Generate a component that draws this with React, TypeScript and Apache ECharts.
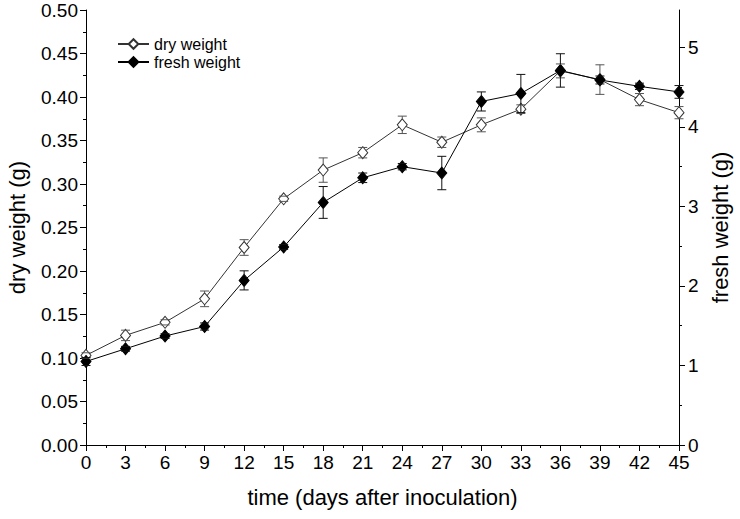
import React, { useEffect, useRef } from "react";
import * as echarts from "echarts";

const days = [0, 3, 6, 9, 12, 15, 18, 21, 24, 27, 30, 33, 36, 39, 42, 45];
const dryWeight = [0.103, 0.126, 0.141, 0.168, 0.227, 0.283, 0.316, 0.336, 0.368, 0.348, 0.368, 0.386, 0.43, 0.42, 0.397, 0.382];
const dryErr = [0.003, 0.006, 0.003, 0.009, 0.009, 0.003, 0.014, 0.006, 0.01, 0.006, 0.008, 0.005, 0.008, 0.017, 0.007, 0.007];
const freshWeight = [1.05, 1.21, 1.37, 1.49, 2.07, 2.49, 3.05, 3.36, 3.5, 3.42, 4.32, 4.42, 4.71, 4.59, 4.51, 4.44];
const freshErr = [0.05, 0.03, 0.03, 0.045, 0.12, 0.03, 0.2, 0.06, 0.04, 0.21, 0.12, 0.24, 0.21, 0.05, 0.04, 0.08];
const rightTicks = [0, 1, 2, 3, 4, 5];
const rightMinorTicks = [0.5, 1.5, 2.5, 3.5, 4.5];

const FONT = "'Liberation Sans', Arial, sans-serif";

function errorSeries(vals: number[], errs: number[], yAxisIndex: number, color: string) {
  return {
    type: "custom",
    yAxisIndex,
    silent: true,
    z: 5,
    data: days.map((d, i) => [d, vals[i], vals[i] - errs[i], vals[i] + errs[i]]),
    encode: { x: 0, y: [1, 2, 3] },
    renderItem: (params: any, api: any) => {
      const x = api.value(0);
      const c = api.coord([x, api.value(1)]);
      const lo = api.coord([x, api.value(2)]);
      const hi = api.coord([x, api.value(3)]);
      const half = 6;
      const w = 4.5;
      const st = { stroke: color, lineWidth: 1 };
      const children: any[] = [
        { type: "line", shape: { x1: hi[0] - w, y1: hi[1], x2: hi[0] + w, y2: hi[1] }, style: st },
        { type: "line", shape: { x1: lo[0] - w, y1: lo[1], x2: lo[0] + w, y2: lo[1] }, style: st },
      ];
      if (c[1] - hi[1] > half) {
        children.push({ type: "line", shape: { x1: c[0], y1: c[1] - half, x2: hi[0], y2: hi[1] }, style: st });
      }
      if (lo[1] - c[1] > half) {
        children.push({ type: "line", shape: { x1: c[0], y1: c[1] + half, x2: lo[0], y2: lo[1] }, style: st });
      }
      return { type: "group", children };
    },
  };
}

export default function App() {
  const ref = useRef<HTMLDivElement>(null);
  useEffect(() => {
    document.body.style.margin = "0";
    const chart = echarts.init(ref.current!, null, { renderer: "svg" });
    const axisText = { color: "#000", fontFamily: FONT, fontSize: 19 };
    const nameText = { color: "#000", fontFamily: FONT, fontSize: 22 };
    chart.setOption({
      animation: false,
      backgroundColor: "#fff",
      grid: { left: 86, right: 61, top: 10, bottom: 74, containLabel: false, outerBoundsMode: "none" },
      legend: {
        data: ["dry weight", "fresh weight"],
        orient: "vertical",
        left: 112,
        top: 31,
        itemWidth: 31,
        itemHeight: 12,
        itemGap: 2,
        textStyle: { color: "#000", fontFamily: FONT, fontSize: 16 },
      },
      xAxis: {
        type: "value",
        min: 0,
        max: 45,
        interval: 3,
        name: "time (days after inoculation)",
        nameLocation: "middle",
        nameGap: 41,
        nameTextStyle: nameText,
        axisLine: { show: true, onZero: false, lineStyle: { color: "#000", width: 1 } },
        axisTick: { show: true, inside: false, length: 6, lineStyle: { color: "#000" } },
        minorTick: { show: true, splitNumber: 2, length: 3, lineStyle: { color: "#000" } },
        axisLabel: { ...axisText, margin: 8 },
        splitLine: { show: false },
      },
      yAxis: [
        {
          type: "value",
          position: "left",
          min: 0,
          max: 0.5,
          interval: 0.05,
          name: "dry weight (g)",
          nameLocation: "middle",
          nameGap: 58,
          nameRotate: 90,
          nameTextStyle: nameText,
          axisLine: { show: true, lineStyle: { color: "#000", width: 1 } },
          axisTick: { show: true, length: 6, lineStyle: { color: "#000" } },
          minorTick: { show: true, splitNumber: 2, length: 3, lineStyle: { color: "#000" } },
          axisLabel: { ...axisText, margin: 8, formatter: (v: number) => v.toFixed(2) },
          splitLine: { show: false },
        },
        {
          type: "value",
          position: "right",
          min: 0,
          max: 5.47,
          interval: 1,
          name: "fresh weight (g)",
          nameLocation: "middle",
          nameGap: 26,
          nameRotate: 90,
          nameTextStyle: nameText,
          axisLine: { show: true, lineStyle: { color: "#000", width: 1 } },
          axisTick: { show: true, length: 6, customValues: rightTicks, lineStyle: { color: "#000" } },
          axisLabel: { ...axisText, margin: 9, customValues: rightTicks },
          splitLine: { show: false },
        },
        {
          type: "value",
          position: "right",
          offset: 0,
          min: 0,
          max: 5.47,
          interval: 1,
          axisLine: { show: false },
          axisTick: { show: true, length: 3, customValues: rightMinorTicks, lineStyle: { color: "#000" } },
          axisLabel: { show: false },
          splitLine: { show: false },
        },
      ],
      series: [
        {
          name: "dry weight",
          type: "line",
          yAxisIndex: 0,
          data: days.map((d, i) => [d, dryWeight[i]]),
          symbol: "diamond",
          symbolSize: [10, 12],
          showAllSymbol: true,
          lineStyle: { color: "#333", width: 1 },
          itemStyle: { color: "#fff", borderColor: "#333", borderWidth: 1 },
          z: 3,
        },
        {
          name: "fresh weight",
          type: "line",
          yAxisIndex: 1,
          data: days.map((d, i) => [d, freshWeight[i]]),
          symbol: "diamond",
          symbolSize: [10, 12],
          showAllSymbol: true,
          lineStyle: { color: "#000", width: 1 },
          itemStyle: { color: "#000", borderColor: "#000", borderWidth: 1 },
          z: 3,
        },
        errorSeries(dryWeight, dryErr, 0, "#555"),
        errorSeries(freshWeight, freshErr, 1, "#111"),
      ],
    });
    return () => chart.dispose();
  }, []);
  return <div ref={ref} style={{ width: 740, height: 519 }} />;
}
